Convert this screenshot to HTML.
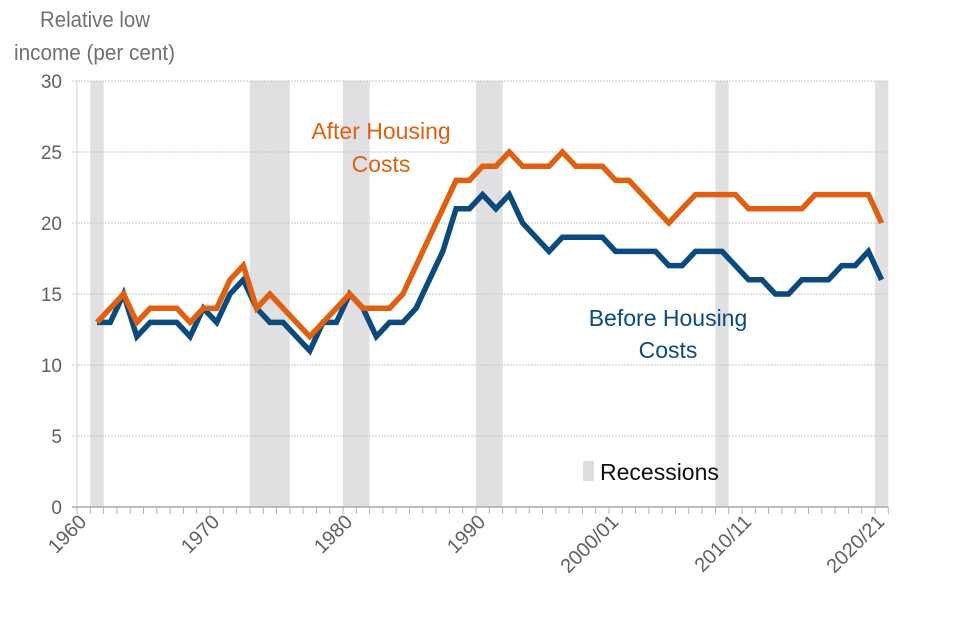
<!DOCTYPE html>
<html><head><meta charset="utf-8"><style>
html,body{margin:0;padding:0;background:#fff;}
svg{display:block;font-family:"Liberation Sans",sans-serif;}
</style></head><body>
<svg id="chart" width="960" height="640" viewBox="0 0 960 640">
<g id="recessions"></g>
<g id="grid"></g>
<g id="axes"></g>
<g id="series"></g>
<text x="40" y="27" textLength="110" lengthAdjust="spacingAndGlyphs" font-size="22" fill="#707070">Relative low</text>
<text x="14" y="60" textLength="161" lengthAdjust="spacingAndGlyphs" font-size="22" fill="#707070">income (per cent)</text>
<text x="381" y="139" text-anchor="middle" font-size="23" fill="#E0600F">After Housing</text>
<text x="381" y="172" text-anchor="middle" font-size="23" fill="#E0600F">Costs</text>
<text x="668" y="326" text-anchor="middle" font-size="23" fill="#0B4A7E">Before Housing</text>
<text x="668" y="358" text-anchor="middle" font-size="23" fill="#0B4A7E">Costs</text>
<rect x="583" y="461" width="11" height="20" fill="#dedee0"/>
<text x="600" y="480" font-size="23" fill="#111">Recessions</text>
</svg>
<script>
const startYear = 1961;
const bhc = [13,13,15,12,13,13,13,12,14,13,15,16,14,13,13,12,11,13,13,15,14,12,13,13,14,16,18,21,21,22,21,22,20,19,18,19,19,19,19,18,18,18,18,17,17,18,18,18,17,16,16,15,15,16,16,16,17,17,18,16];
const ahc = [13,14,15,13,14,14,14,13,14,14,16,17,14,15,14,13,12,13,14,15,14,14,14,15,17,19,21,23,23,24,24,25,24,24,24,25,24,24,24,23,23,22,21,20,21,22,22,22,22,21,21,21,21,21,22,22,22,22,22,20];
const recessionStart = [1961,1973,1980,1990,2008,2020];
const recessionEnd = [1961,1975,1981,1991,2008,2020];
const yTicks = [0,5,10,15,20,25,30];
const xTickYears = [1960,1970,1980,1990,2000,2010,2020];
const xTickLabels = ["1960","1970","1980","1990","2000/01","2010/11","2020/21"];

const NS = "http://www.w3.org/2000/svg";
const x0 = 77, band = 13.3, firstYear = 1960;
const yBase = 507, yTop = 81, yMax = 30;
function xBandStart(yr){ return x0 + (yr - firstYear) * band; }
function xCenter(yr){ return xBandStart(yr) + band / 2; }
function yPos(v){ return yBase - (v / yMax) * (yBase - yTop); }
function mk(tag, attrs, parent){ const e = document.createElementNS(NS, tag); for (const k in attrs) e.setAttribute(k, attrs[k]); parent.appendChild(e); return e; }

const gRec = document.getElementById('recessions');
recessionStart.forEach((s, i) => {
  const r = mk('rect', {x: xBandStart(s), y: yTop, width: (recessionEnd[i] - s + 1) * band, height: yBase - yTop, fill: '#e0e0e3'}, gRec);
  
  
});

const gGrid = document.getElementById('grid');
const gAx = document.getElementById('axes');
yTicks.forEach(t => {
  if (t > 0) {
    const l = mk('line', {x1: 72, x2: 888, y1: yPos(t), y2: yPos(t), stroke: '#c4c4c4', 'stroke-width': 1, 'stroke-dasharray': '2,1'}, gGrid);
    
    
  }
  const tx = mk('text', {x: 62, y: yPos(t) + 7, 'text-anchor': 'end', 'font-size': 19, fill: '#606060'}, gAx);
  tx.textContent = t;
  
  
});
const ya = mk('line', {x1: x0, x2: x0, y1: yTop, y2: yBase, stroke: '#d0d0d0', 'stroke-width': 1}, gAx);


const xa = mk('line', {x1: 72, x2: 888, y1: yBase, y2: yBase, stroke: '#a8a8a8', 'stroke-width': 1.5}, gAx);


for (let yr = firstYear; yr <= 2021; yr++) {
  const tk = mk('line', {x1: xBandStart(yr), x2: xBandStart(yr), y1: yBase, y2: yBase + 7, stroke: '#b0b0b0', 'stroke-width': 1}, gAx);
  
  
}
xTickYears.forEach((yr, i) => {
  const cx = xCenter(yr) + 4, cy = yBase + 16;
  const tx = mk('text', {x: cx, y: cy, 'text-anchor': 'end', 'font-size': 20, fill: '#606060', transform: `rotate(-45 ${cx} ${cy})`}, gAx);
  tx.textContent = xTickLabels[i];
  
  
});

const gS = document.getElementById('series');
function line(vals, color, name){
  const d = vals.map((v, i) => (i ? 'L' : 'M') + xCenter(startYear + i).toFixed(1) + ',' + yPos(v).toFixed(1)).join(' ');
  const p = mk('path', {d: d, fill: 'none', stroke: color, 'stroke-width': 5.5, 'stroke-linejoin': 'miter'}, gS);
  
  
}
line(bhc, '#0B4A7E', 'bhc-line');
line(ahc, '#E0600F', 'ahc-line');
</script>
</body></html>
